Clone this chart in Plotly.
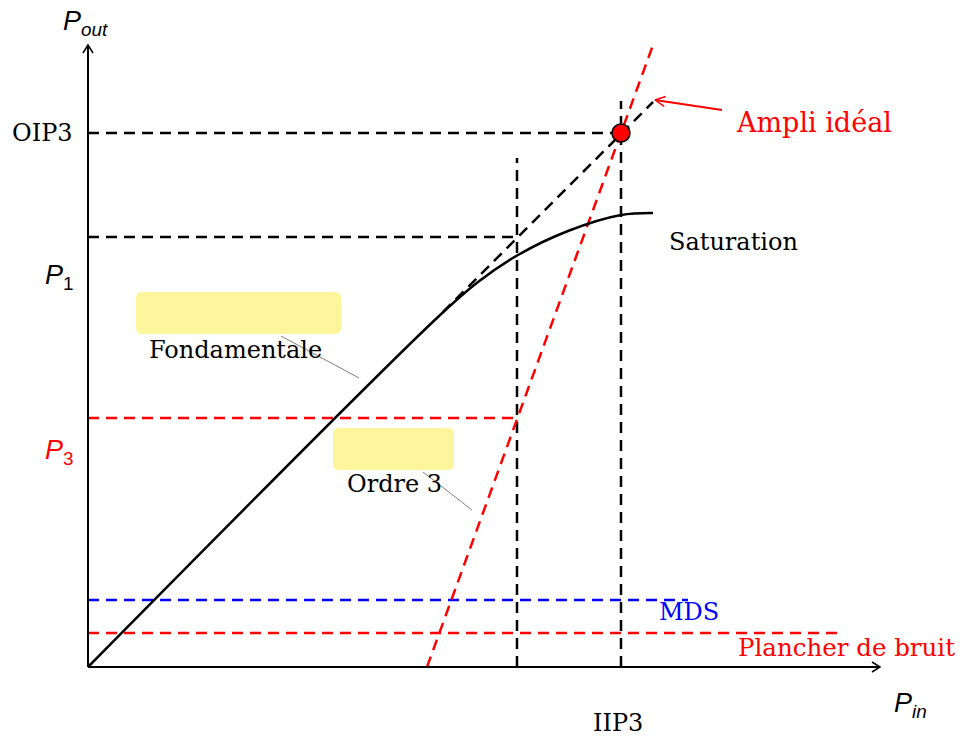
import plotly.graph_objects as go
import numpy as np

# ---- diagram values (origin of the Pin/Pout axes at 0,0) ----
axis_x_end = 792
axis_y_end = 622

oip3_level = 534
p1_level = 430
p3_level = 249
mds_level = 67
noise_level = 34

iip3_x = 533
p1_x = 429

fund_x = [0, 350, 390, 430, 480, 533, 565]
fund_y = [0, 350, 385, 412, 436, 452, 454]

ideal_x = [355, 565]
ideal_y = [355, 565]

ord3_x = [339, 565]
ord3_y = [0, 622]

mds_end = 600
noise_end = 754
p3_end = 429
vline_p1_top = 509
vline_iip3_top = 566

box1 = [48, 253, 333, 375]   # x0, x1, y0, y1
box2 = [245, 366, 197, 239]
leader1_x = [193, 271]
leader1_y = [331, 289]
leader2_x = [335, 384]
leader2_y = [195, 157]

ampli_arrow_x = [634, 567]
ampli_arrow_y = [557, 567]

SERIF = "DejaVu Serif"
SANS = "Liberation Sans"
RED = "#FF0000"
BLUE = "#0000FF"
DASH = "11px,7px"

fig = go.Figure()

def line(x, y, color="black", width=2, dash=None, shape="linear"):
    fig.add_trace(go.Scatter(x=x, y=y, mode="lines", hoverinfo="skip",
                             line=dict(color=color, width=width, dash=dash, shape=shape),
                             showlegend=False))

# dashed reference lines
line([0, iip3_x], [oip3_level, oip3_level], dash=DASH, width=2.5)
line([0, p1_x], [p1_level, p1_level], dash=DASH, width=2.5)
line([0, p3_end], [p3_level, p3_level], color=RED, dash=DASH, width=2.5)
line([0, mds_end], [mds_level, mds_level], color=BLUE, dash=DASH, width=2.5)
line([0, noise_end], [noise_level, noise_level], color=RED, dash=DASH, width=2.5)
line([p1_x, p1_x], [0, vline_p1_top], dash=DASH, width=2.5)
line([iip3_x, iip3_x], [0, vline_iip3_top], dash=DASH, width=2.5)

# ideal amplifier & third order
line(ideal_x, ideal_y, dash=DASH, width=2.5)
line(ord3_x, ord3_y, color=RED, dash=DASH, width=2.5)

# fundamental
line(fund_x, fund_y, width=2.5, shape="spline")

# leaders
line(leader1_x, leader1_y, color="#808080", width=1)
line(leader2_x, leader2_y, color="#808080", width=1)

# axes
line([0, 0], [0, axis_y_end], width=2)
line([0, axis_x_end], [0, 0], width=2)
line([-5, 0, 5], [axis_y_end - 8, axis_y_end, axis_y_end - 8], width=1.5)
line([axis_x_end - 8, axis_x_end, axis_x_end - 8], [5, 0, -5], width=1.5)

# Ampli ideal arrow (open head)
line(ampli_arrow_x, ampli_arrow_y, color=RED, width=2)
tx, ty = ampli_arrow_x[1], ampli_arrow_y[1]
dx, dy = ampli_arrow_x[0] - tx, ampli_arrow_y[0] - ty
n = np.hypot(dx, dy); ux, uy = dx / n, dy / n
px, py = -uy, ux
L, W = 10, 5
line([tx + L * ux + W * px, tx, tx + L * ux - W * px],
     [ty + L * uy + W * py, ty, ty + L * uy - W * py], color=RED, width=1.5)

# intercept point
fig.add_trace(go.Scatter(x=[iip3_x], y=[oip3_level], mode="markers", hoverinfo="skip",
                         marker=dict(size=18, color=RED, line=dict(color="black", width=1.5)),
                         showlegend=False))

def rounded(x0, x1, y0, y1, r=6):
    return (f"M {x0+r},{y0} L {x1-r},{y0} Q {x1},{y0} {x1},{y0+r} "
            f"L {x1},{y1-r} Q {x1},{y1} {x1-r},{y1} L {x0+r},{y1} "
            f"Q {x0},{y1} {x0},{y1-r} L {x0},{y0+r} Q {x0},{y0} {x0+r},{y0} Z")

for b in (box1, box2):
    fig.add_shape(type="path", path=rounded(*b), xref="x", yref="y",
                  fillcolor="#FFF59D", line=dict(width=0), layer="below")

def text(x, y, s, color="black", size=24, family=SERIF, xanchor="center"):
    fig.add_annotation(x=x, y=y, text=s, showarrow=False, xref="x", yref="y",
                       xanchor=xanchor, yanchor="middle",
                       font=dict(family=family, size=size, color=color))

text(-13, oip3_level, "OIP3", xanchor="right")
text(-12, 390, "<i>P</i><sub>1</sub>", family=SANS, size=27, xanchor="right")
text(-12, 215, "<i>P</i><sub>3</sub>", color=RED, family=SANS, size=27, xanchor="right")
text(-3, 644, "<i>P</i><sub><i>out</i></sub>", family=SANS, size=27)
text(822, -38, "<i>P</i><sub><i>in</i></sub>", family=SANS, size=27)
text(530, -56, "IIP3")
text(147, 317, "Fondamentale")
text(306, 183, "Ordre 3")
text(579, 425, "Saturation", xanchor="left")
text(646, 545, "Ampli idéal", color=RED, size=27, xanchor="left")
text(569, 55, "MDS", color=BLUE, xanchor="left")
text(648, 20, "Plancher de bruit", color=RED, size=24.5, xanchor="left")

fig.update_layout(
    width=959, height=738,
    margin=dict(l=0, r=0, t=0, b=0),
    paper_bgcolor="white", plot_bgcolor="white",
    xaxis=dict(range=[-88, 871], visible=False, fixedrange=True),
    yaxis=dict(range=[-71, 667], visible=False, fixedrange=True),
)

fig.write_html("out.html", config={"displayModeBar": False},
               post_script="document.body.style.margin='0';")
